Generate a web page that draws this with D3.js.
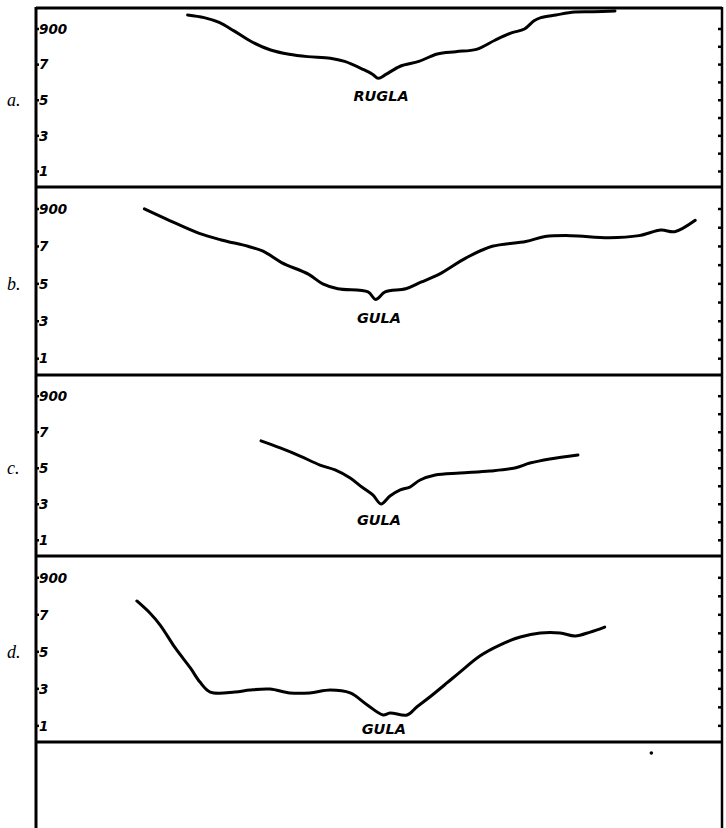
<!DOCTYPE html>
<html>
<head>
<meta charset="utf-8">
<script src="https://cdn.jsdelivr.net/npm/d3@7"></script>
<style>
  html, body { margin: 0; padding: 0; background: #fff; }
  svg { display: block; }
  .tick-label { font-family: "DejaVu Sans", sans-serif; font-weight: bold; font-style: italic; font-size: 13.5px; fill: #000; }
  .panel-letter { font-family: "Liberation Serif", serif; font-style: italic; font-size: 18px; fill: #000; }
  .curve-label { font-family: "DejaVu Sans", sans-serif; font-weight: bold; font-style: italic; font-size: 14.5px; fill: #000; }
</style>
</head>
<body>
<script>
// Profile series: [horizontal position (0-100), height value]
const panels = ["a.", "b.", "c.", "d."];
const curveNames = ["RUGLA", "GULA", "GULA", "GULA"];

const seriesA = [
  [22.1, 976], [24.5, 961], [26.7, 934], [28.8, 888], [31.5, 824], [34.2, 779],
  [36.9, 755], [39.6, 742], [42.9, 733], [45.0, 715], [47.7, 670], [49.1, 642],
  [49.9, 620], [51.0, 642], [53.1, 688], [55.8, 715], [58.5, 757], [61.2, 770],
  [64.2, 783], [66.9, 834], [69.3, 875], [71.2, 897], [72.6, 943], [73.6, 961],
  [75.8, 976], [78.5, 992], [81.2, 994], [84.4, 998]
];
const seriesB = [
  [15.8, 898], [19.4, 837], [23.8, 767], [27.0, 732], [30.9, 698], [33.1, 672],
  [35.8, 611], [39.7, 549], [41.8, 497], [44.0, 471], [48.4, 454], [49.5, 414],
  [50.9, 454], [53.9, 471], [56.1, 506], [58.8, 549], [62.7, 636], [66.5, 698],
  [71.4, 724], [74.2, 750], [78.0, 755], [83.5, 744], [87.9, 755], [91.1, 785],
  [93.1, 776], [96.1, 837]
];
const seriesC = [
  [32.8, 649], [35.6, 610], [38.5, 565], [41.4, 515], [43.6, 488], [45.8, 443],
  [47.5, 393], [49.1, 349], [50.3, 299], [51.6, 343], [53.1, 377], [54.5, 393],
  [56.0, 432], [58.2, 460], [61.8, 471], [66.2, 482], [69.8, 499], [72.0, 526],
  [74.9, 549], [79.0, 571]
];
const seriesD = [
  [14.7, 772], [16.6, 707], [18.1, 642], [20.3, 518], [22.5, 410], [23.9, 334],
  [25.4, 280], [29.0, 280], [31.2, 291], [34.1, 296], [37.0, 275], [39.9, 275],
  [42.9, 291], [45.8, 275], [48.3, 210], [50.6, 156], [51.6, 167], [54.1, 156],
  [55.5, 199], [57.4, 253], [59.9, 329], [61.8, 388], [64.7, 475], [67.6, 534],
  [70.6, 577], [73.5, 599], [76.4, 599], [78.6, 583], [80.8, 604], [82.9, 631]
];
const allSeries = [seriesA, seriesB, seriesC, seriesD];

// Axis ticks
const labelTicks = [900, 700, 500, 300, 100];
const labelText = ["900", "7", "5", "3", "1"];
const minorTicks = [900, 800, 700, 600, 500, 400, 300, 200, 100];

// Where each curve's name sits: [horizontal position, height value]
const nameAnchors = [[50.3, 520], [50.0, 313], [50.0, 210], [50.7, 80]];

// ---- layout ----
const W = 726, H = 828;
const axisX = 36, rightX = 722;
const frameTop = 8;
const panelEdges = [8, 187, 375, 556, 742];
const bottomEdge = 828;
const valueDomain = [10, 1015];

const svg = d3.select("body").append("svg").attr("width", W).attr("height", H);

const x = d3.scaleLinear().domain([0, 100]).range([axisX, rightX]);

const line = d3.line().curve(d3.curveCatmullRom.alpha(0.5));

panels.forEach((letter, i) => {
  const top = panelEdges[i], bottom = panelEdges[i + 1];
  const y = d3.scaleLinear().domain(valueDomain).range([bottom, top]);
  const g = svg.append("g");

  // left tick marks with labels
  const leftAxis = d3.axisRight(y).tickValues(labelTicks).tickSize(3).tickFormat((d, k) => labelText[k]);
  const la = g.append("g").attr("transform", `translate(${axisX},0)`).call(leftAxis);
  la.select(".domain").remove();
  la.selectAll(".tick line").attr("stroke", "#000").attr("stroke-width", 2.5);
  la.selectAll(".tick text").attr("class", "tick-label").attr("x", 3).attr("dy", "0.35em");

  // right-edge tick marks
  const rightAxis = d3.axisLeft(y).tickValues(minorTicks).tickSize(4).tickFormat("");
  const ra = g.append("g").attr("transform", `translate(${rightX},0)`).call(rightAxis);
  ra.select(".domain").remove();
  ra.selectAll(".tick line").attr("stroke", "#000").attr("stroke-width", 2.5);

  // panel letter
  g.append("text").attr("class", "panel-letter")
    .attr("x", 7).attr("y", y(500)).attr("dy", "0.35em").text(letter);

  // profile curve
  g.append("path")
    .attr("d", line(allSeries[i].map(d => [x(d[0]), y(d[1])])))
    .attr("fill", "none").attr("stroke", "#000")
    .attr("stroke-width", 3).attr("stroke-linejoin", "round").attr("stroke-linecap", "round");

  // curve name
  g.append("text").attr("class", "curve-label")
    .attr("x", x(nameAnchors[i][0])).attr("y", y(nameAnchors[i][1]))
    .attr("text-anchor", "middle").attr("dy", "0.35em").text(curveNames[i]);
});

// frame: left axis, right edge, panel dividers
const frame = svg.append("g").attr("stroke", "#000").attr("fill", "none");
frame.append("line").attr("x1", axisX).attr("x2", axisX).attr("y1", frameTop - 1).attr("y2", bottomEdge).attr("stroke-width", 3);
frame.append("line").attr("x1", rightX).attr("x2", rightX).attr("y1", frameTop - 1).attr("y2", bottomEdge).attr("stroke-width", 2.5);
panelEdges.forEach(e => {
  frame.append("line").attr("x1", axisX).attr("x2", rightX).attr("y1", e).attr("y2", e).attr("stroke-width", 3);
});

// small stray dot in the lower strip
svg.append("circle").attr("cx", x(89.7)).attr("cy", 753).attr("r", 1.8).attr("fill", "#000");
</script>
</body>
</html>
